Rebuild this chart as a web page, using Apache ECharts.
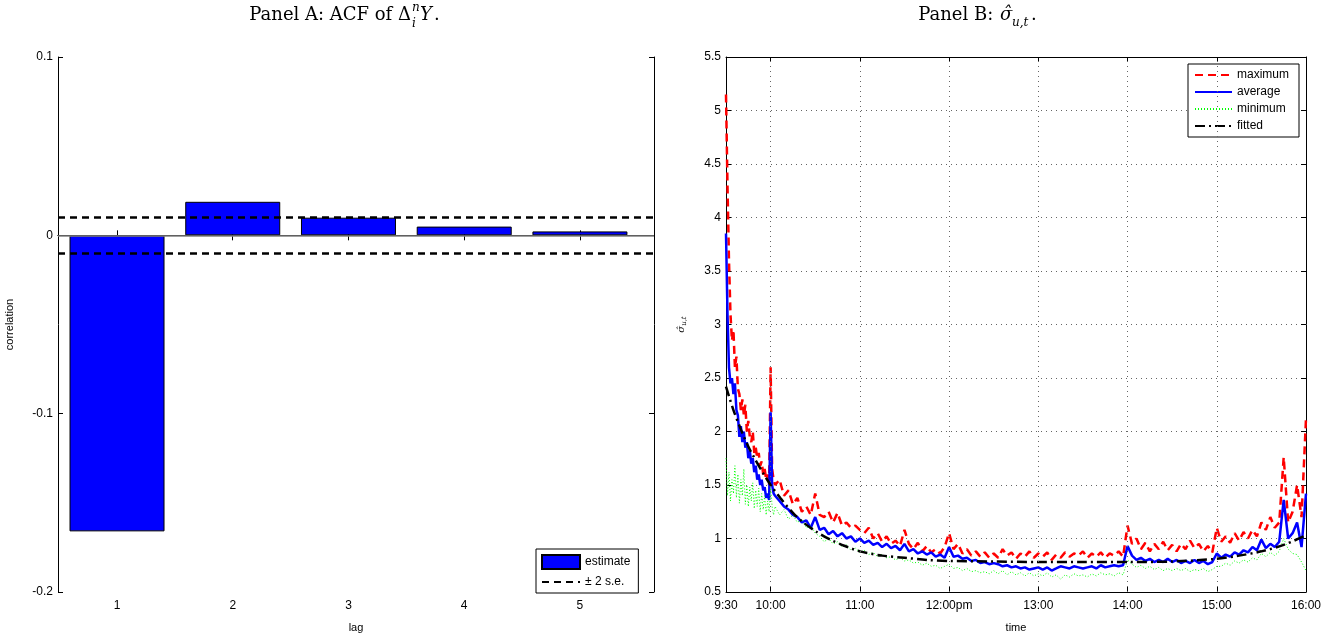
<!DOCTYPE html>
<html>
<head>
<meta charset="utf-8">
<script src="https://cdn.jsdelivr.net/npm/echarts@6/dist/echarts.min.js"></script>
<style>
html, body { margin: 0; padding: 0; background: #fff; }
#main { width: 1325px; height: 638px; }
</style>
</head>
<body>
<div id="main"></div>
<script>
// Panel A: autocorrelation of returns
var lags = [1, 2, 3, 4, 5];
var acfVals = [-0.166, 0.0188, 0.0099, 0.0049, 0.0022];
var se2 = 0.0112;

// Panel B: time in minutes after 9:00
var times = [
  30, 31, 32, 33, 34, 35, 36, 37, 38, 39, 40, 41, 42, 43, 44, 45, 46, 47, 48, 49, 50, 51, 52, 53, 54, 55, 56, 57, 58, 59, 60, 61, 62,
  63, 66, 69, 72, 75, 78, 81, 84, 87, 90,
  93, 96, 99, 102, 105, 108, 111, 114, 117, 120,
  123, 126, 129, 132, 135, 138, 141, 144, 147, 150,
  153, 156, 159, 162, 165, 168, 171, 174, 177, 180,
  183, 186, 189, 192, 195, 198, 201, 204, 207, 210,
  213, 216, 219, 222, 225, 228, 231, 234, 237, 240,
  243, 246, 249, 252, 255, 258, 261, 264, 267, 270,
  273, 276, 279, 282, 285, 288, 291, 294, 297, 300,
  303, 306, 309, 312, 315, 318, 321, 324, 327, 330,
  333, 336, 339, 342, 345, 348, 351, 354, 357, 360,
  363, 366, 369, 372, 375, 378, 381, 384, 387, 390,
  393, 396, 399, 402, 405, 408, 411, 414, 417, 420
];
var maxVals = [
  5.15, 4.3, 3.6, 3.1, 2.85, 2.95, 2.6, 2.7, 2.4, 2.35, 2.2, 2.3, 2.15, 2.25, 2.0, 2.1, 1.95, 1.9, 2.0, 1.8, 1.85, 1.75, 1.8, 1.68, 1.72, 1.6, 1.65, 1.55, 1.6, 1.5, 2.6, 1.65, 1.55,
  1.5, 1.55, 1.4, 1.45, 1.32, 1.38, 1.25, 1.3, 1.22, 1.42,
  1.22, 1.2, 1.25, 1.15, 1.24, 1.12, 1.15, 1.1, 1.12, 1.08,
  1.05, 1.1, 1.0, 1.05, 0.97, 1.02, 0.95, 0.98, 0.93, 1.08,
  0.95, 0.9, 0.96, 0.88, 0.93, 0.87, 0.9, 0.86, 0.92, 1.05,
  0.9, 0.95, 0.86, 0.9, 0.84, 0.88, 0.83, 0.87, 0.82, 0.86,
  0.82, 0.9, 0.84, 0.87, 0.81, 0.86, 0.83, 0.88, 0.82, 0.86,
  0.83, 0.87, 0.8, 0.85, 0.82, 0.87, 0.83, 0.86, 0.84, 0.88,
  0.82, 0.86, 0.83, 0.87, 0.82, 0.86, 0.84, 0.88, 0.83, 1.12,
  0.95, 1.0, 0.9, 0.96, 0.88, 0.95, 0.9, 0.97, 0.89, 0.94,
  0.88, 0.95, 0.9, 0.98, 0.91, 0.95, 0.88, 0.93, 0.87, 1.1,
  0.97, 1.02, 0.96, 1.05, 0.98, 1.06, 1.0, 1.08, 1.02, 1.15,
  1.08, 1.2, 1.1, 1.15, 1.76, 1.15, 1.25, 1.5, 1.2, 2.12
];
var avgVals = [
  3.85, 3.1, 2.6, 2.45, 2.5, 2.35, 2.45, 2.2, 2.15, 1.95, 2.05, 1.9, 2.0, 1.85, 1.9, 1.75, 1.82, 1.7, 1.75, 1.62, 1.68, 1.55, 1.6, 1.5, 1.55, 1.45, 1.48, 1.38, 1.42, 1.36, 2.18, 1.5, 1.42,
  1.4, 1.35, 1.3, 1.27, 1.22, 1.2, 1.15, 1.17, 1.1, 1.2,
  1.08, 1.1, 1.04, 1.07, 1.02, 1.05, 1.0, 1.02, 0.97, 1.0,
  0.96, 0.98, 0.94, 0.96, 0.92, 0.95, 0.91, 0.93, 0.89, 0.95,
  0.88, 0.9, 0.86, 0.88, 0.85, 0.87, 0.83, 0.85, 0.82, 0.92,
  0.83, 0.84, 0.81, 0.82, 0.79, 0.8, 0.77, 0.78, 0.76, 0.77,
  0.76, 0.74, 0.75, 0.73, 0.74, 0.72, 0.73, 0.71, 0.72, 0.73,
  0.71, 0.73, 0.7, 0.72, 0.74, 0.73, 0.72, 0.74, 0.73, 0.72,
  0.73, 0.74, 0.72, 0.75, 0.73, 0.74, 0.75, 0.74, 0.75, 0.93,
  0.84, 0.8, 0.82, 0.79, 0.81, 0.78, 0.8, 0.78, 0.81, 0.78,
  0.8, 0.77, 0.79, 0.77, 0.8, 0.77, 0.79, 0.76, 0.78, 0.86,
  0.82, 0.85, 0.83, 0.87, 0.85, 0.89, 0.87, 0.92, 0.89, 0.99,
  0.91, 0.95, 0.92, 0.97, 1.36, 1.0, 1.05, 1.15, 0.92, 1.42
];
var minVals = [
  1.75, 1.4, 1.62, 1.35, 1.55, 1.42, 1.68, 1.38, 1.6, 1.33, 1.55, 1.4, 1.65, 1.32, 1.5, 1.3, 1.48, 1.35, 1.52, 1.28, 1.45, 1.3, 1.47, 1.25, 1.42, 1.27, 1.4, 1.22, 1.35, 1.25, 1.5, 1.3, 1.22,
  1.3, 1.22, 1.27, 1.18, 1.22, 1.15, 1.18, 1.1, 1.12, 1.05,
  1.02, 0.97, 1.0, 0.95, 0.97, 0.92, 0.94, 0.89, 0.91, 0.87,
  0.89, 0.85, 0.87, 0.83, 0.85, 0.82, 0.83, 0.8, 0.82, 0.79,
  0.8, 0.77, 0.78, 0.75, 0.77, 0.74, 0.75, 0.72, 0.74, 0.76,
  0.72, 0.73, 0.7, 0.72, 0.69, 0.7, 0.68, 0.69, 0.67, 0.7,
  0.67, 0.7, 0.66, 0.69, 0.66, 0.68, 0.65, 0.68, 0.65, 0.67,
  0.65, 0.68, 0.64, 0.66, 0.62, 0.66, 0.64, 0.67, 0.65, 0.66,
  0.64, 0.67, 0.65, 0.68, 0.66, 0.67, 0.65, 0.68, 0.66, 0.8,
  0.76, 0.73, 0.75, 0.72, 0.74, 0.71, 0.73, 0.7, 0.72, 0.7,
  0.72, 0.7, 0.72, 0.69, 0.71, 0.7, 0.72, 0.69, 0.71, 0.74,
  0.74, 0.77, 0.75, 0.79, 0.77, 0.8, 0.78, 0.82, 0.8, 0.86,
  0.83, 0.87, 0.84, 0.88, 1.0, 0.9, 0.86, 0.85, 0.78, 0.7
];
var fitTimes = [30, 35, 40, 45, 50, 55, 60, 67, 75, 82, 90, 100, 110, 120, 135, 150, 165, 180, 210, 240, 270, 300, 330, 360, 375, 390, 405, 420];
var fitVals = [2.42, 2.2, 2.02, 1.86, 1.73, 1.61, 1.5, 1.37, 1.24, 1.15, 1.07, 0.99, 0.93, 0.88, 0.84, 0.82, 0.8, 0.79, 0.785, 0.78, 0.78, 0.78, 0.785, 0.81, 0.84, 0.88, 0.94, 1.03];
var timeTicks = [30, 60, 120, 180, 240, 300, 360, 420];
var gridHours = [60, 120, 180, 240, 300, 360];

var tickFont = { fontFamily: 'Liberation Sans', fontSize: 12, color: '#000' };
var axLine = { lineStyle: { color: '#000', width: 1 } };
var titleFont = 'DejaVu Serif';

function zip(xs, ys) {
    return xs.map(function (x, i) { return [x, ys[i]]; });
}

function timeLabel(v) {
    if (v === 30) return '9:30';
    var h = 9 + v / 60;
    return h === 12 ? '12:00pm' : h + ':00';
}

// legend entries for line series: hide the marker, keep the line
function lineItem(name) {
    return { name: name, itemStyle: { opacity: 0 } };
}

var chart = echarts.init(document.getElementById('main'));

var option = {
    animation: false,
    backgroundColor: '#fff',
    grid: [
        { left: 58, top: 57, width: 596, height: 543 },
        { left: 726, top: 57, width: 580, height: 543 }
    ],
    xAxis: [
        {
            gridIndex: 0, type: 'value', min: 0.49, max: 5.64,
            name: 'lag', nameLocation: 'middle', nameGap: 30,
            nameTextStyle: { fontFamily: 'Liberation Sans', fontSize: 11, color: '#000' },
            axisLine: axLine,
            axisTick: { inside: true, length: 5, customValues: lags, lineStyle: { color: '#000' } },
            axisLabel: Object.assign({ customValues: lags, margin: 8 }, tickFont),
            splitLine: { show: false }
        },
        {
            gridIndex: 0, type: 'value', position: 'top', min: 0.49, max: 5.64,
            axisLine: axLine,
            axisTick: { inside: true, length: 5, customValues: lags, lineStyle: { color: '#000' } },
            axisLabel: { show: false },
            splitLine: { show: false }
        },
        {
            gridIndex: 1, type: 'value', min: 30, max: 420,
            name: 'time', nameLocation: 'middle', nameGap: 30,
            nameTextStyle: { fontFamily: 'Liberation Sans', fontSize: 11, color: '#000' },
            axisLine: axLine,
            axisTick: { inside: true, length: 5, customValues: timeTicks, lineStyle: { color: '#000' } },
            axisLabel: Object.assign({ customValues: timeTicks, margin: 8, formatter: timeLabel }, tickFont),
            splitLine: { show: false }
        },
        {
            gridIndex: 1, type: 'value', position: 'top', min: 30, max: 420,
            axisLine: axLine,
            axisTick: { inside: true, length: 5, customValues: timeTicks, lineStyle: { color: '#000' } },
            axisLabel: { show: false },
            splitLine: { show: false }
        }
    ],
    yAxis: [
        {
            gridIndex: 0, type: 'value', min: -0.2, max: 0.1, interval: 0.1,
            name: 'correlation', nameLocation: 'middle', nameGap: 43,
            nameTextStyle: { fontFamily: 'Liberation Sans', fontSize: 11, color: '#000' },
            axisLine: axLine,
            axisTick: { inside: true, length: 5, lineStyle: { color: '#000' } },
            axisLabel: Object.assign({ margin: 5 }, tickFont),
            splitLine: { show: false }
        },
        {
            gridIndex: 0, type: 'value', position: 'right', min: -0.2, max: 0.1, interval: 0.1,
            axisLine: axLine,
            axisTick: { inside: true, length: 5, lineStyle: { color: '#000' } },
            axisLabel: { show: false },
            splitLine: { show: false }
        },
        {
            gridIndex: 1, type: 'value', min: 0.5, max: 5.5, interval: 0.5,
            name: '{s|σ\u0302}{u|u,t}', nameLocation: 'middle', nameGap: 38,
            nameTextStyle: {
                rich: {
                    s: { fontFamily: 'DejaVu Serif', fontStyle: 'italic', fontSize: 10, color: '#000' },
                    u: { fontFamily: 'DejaVu Serif', fontStyle: 'italic', fontSize: 7, color: '#000', padding: [6, 0, 0, 0] }
                }
            },
            axisLine: axLine,
            axisTick: { inside: true, length: 5, lineStyle: { color: '#000' } },
            axisLabel: Object.assign({ margin: 5 }, tickFont),
            splitLine: { show: true, lineStyle: { color: '#666', type: [1, 4], width: 1 } }
        },
        {
            gridIndex: 1, type: 'value', position: 'right', min: 0.5, max: 5.5, interval: 0.5,
            axisLine: axLine,
            axisTick: { inside: true, length: 5, lineStyle: { color: '#000' } },
            axisLabel: { show: false },
            splitLine: { show: false }
        }
    ],
    legend: [
        {
            left: 536, top: 549, orient: 'vertical',
            itemWidth: 38, itemHeight: 14, itemGap: 6,
            padding: [5, 8, 5, 5],
            backgroundColor: '#fff', borderColor: '#000', borderWidth: 1, borderRadius: 0,
            textStyle: { fontFamily: 'Liberation Sans', fontSize: 12, color: '#000' },
            data: [{ name: 'estimate', icon: 'rect' }, lineItem('± 2 s.e.')]
        },
        {
            left: 1188, top: 64, orient: 'vertical',
            itemWidth: 37, itemHeight: 14, itemGap: 5,
            padding: [5, 10, 5, 6],
            backgroundColor: '#fff', borderColor: '#000', borderWidth: 1, borderRadius: 0,
            textStyle: { fontFamily: 'Liberation Sans', fontSize: 12, color: '#000' },
            data: [lineItem('maximum'), lineItem('average'), lineItem('minimum'), lineItem('fitted')]
        }
    ],
    graphic: [
        { type: 'text', x: 411, y: 15, style: { text: 'Panel A: ACF of Δ', textAlign: 'right', textVerticalAlign: 'middle', fontFamily: titleFont, fontSize: 18, fill: '#000' } },
        { type: 'text', x: 412, y: 8, style: { text: 'n', textAlign: 'left', textVerticalAlign: 'middle', fontFamily: titleFont, fontStyle: 'italic', fontSize: 12, fill: '#000' } },
        { type: 'text', x: 412, y: 24, style: { text: 'i', textAlign: 'left', textVerticalAlign: 'middle', fontFamily: titleFont, fontStyle: 'italic', fontSize: 12, fill: '#000' } },
        { type: 'text', x: 420, y: 15, style: { text: 'Y', textAlign: 'left', textVerticalAlign: 'middle', fontFamily: titleFont, fontStyle: 'italic', fontSize: 18, fill: '#000' } },
        { type: 'text', x: 434, y: 15, style: { text: '.', textAlign: 'left', textVerticalAlign: 'middle', fontFamily: titleFont, fontSize: 18, fill: '#000' } },
        { type: 'text', x: 999, y: 15, style: { text: 'Panel B: ', textAlign: 'right', textVerticalAlign: 'middle', fontFamily: titleFont, fontSize: 18, fill: '#000' } },
        { type: 'text', x: 1000, y: 15, style: { text: 'σ\u0302', textAlign: 'left', textVerticalAlign: 'middle', fontFamily: titleFont, fontStyle: 'italic', fontSize: 18, fill: '#000' } },
        { type: 'text', x: 1012, y: 23, style: { text: 'u,t', textAlign: 'left', textVerticalAlign: 'middle', fontFamily: titleFont, fontStyle: 'italic', fontSize: 12, fill: '#000' } },
        { type: 'text', x: 1031, y: 15, style: { text: '.', textAlign: 'left', textVerticalAlign: 'middle', fontFamily: titleFont, fontSize: 18, fill: '#000' } }
    ],
    series: [
        {
            name: 'estimate', type: 'bar', xAxisIndex: 0, yAxisIndex: 0,
            barWidth: 95,
            itemStyle: { color: '#0000ff', borderColor: '#000', borderWidth: 1 },
            data: zip(lags, acfVals),
            markLine: {
                silent: true, symbol: ['none', 'none'], label: { show: false },
                lineStyle: { color: '#808080', type: 'solid', width: 1.5 },
                data: [{ yAxis: 0 }]
            }
        },
        {
            name: '± 2 s.e.', type: 'line', xAxisIndex: 0, yAxisIndex: 0,
            symbol: 'none', showSymbol: false,
            itemStyle: { color: '#000' },
            lineStyle: { color: '#000', type: [7, 5], width: 2.5 },
            data: [],
            markLine: {
                silent: true, symbol: ['none', 'none'], label: { show: false },
                lineStyle: { color: '#000', type: [7, 5], width: 2.5 },
                data: [{ yAxis: se2 }, { yAxis: -se2 }]
            }
        },
        {
            name: 'hours', type: 'line', xAxisIndex: 2, yAxisIndex: 2,
            symbol: 'none', data: [],
            markLine: {
                silent: true, symbol: ['none', 'none'], label: { show: false },
                lineStyle: { color: '#666', type: [1, 4], width: 1 },
                data: gridHours.map(function (h) { return { xAxis: h }; })
            }
        },
        {
            name: 'maximum', type: 'line', xAxisIndex: 2, yAxisIndex: 2,
            symbol: 'none', showSymbol: false,
            itemStyle: { color: '#ff0000' },
            lineStyle: { color: '#ff0000', type: [8, 5], width: 2.5 },
            data: zip(times, maxVals)
        },
        {
            name: 'average', type: 'line', xAxisIndex: 2, yAxisIndex: 2,
            symbol: 'none', showSymbol: false,
            itemStyle: { color: '#0000ff' },
            lineStyle: { color: '#0000ff', width: 2.5 },
            data: zip(times, avgVals)
        },
        {
            name: 'minimum', type: 'line', xAxisIndex: 2, yAxisIndex: 2,
            symbol: 'none', showSymbol: false,
            itemStyle: { color: '#00ff00' },
            lineStyle: { color: '#00ff00', type: [1, 2], width: 1 },
            data: zip(times, minVals)
        },
        {
            name: 'fitted', type: 'line', xAxisIndex: 2, yAxisIndex: 2,
            symbol: 'none', showSymbol: false, smooth: 0.3,
            itemStyle: { color: '#000' },
            lineStyle: { color: '#000', type: [10, 4, 2, 4], width: 2.5 },
            data: zip(fitTimes, fitVals)
        }
    ]
};

chart.setOption(option);
</script>
</body>
</html>
